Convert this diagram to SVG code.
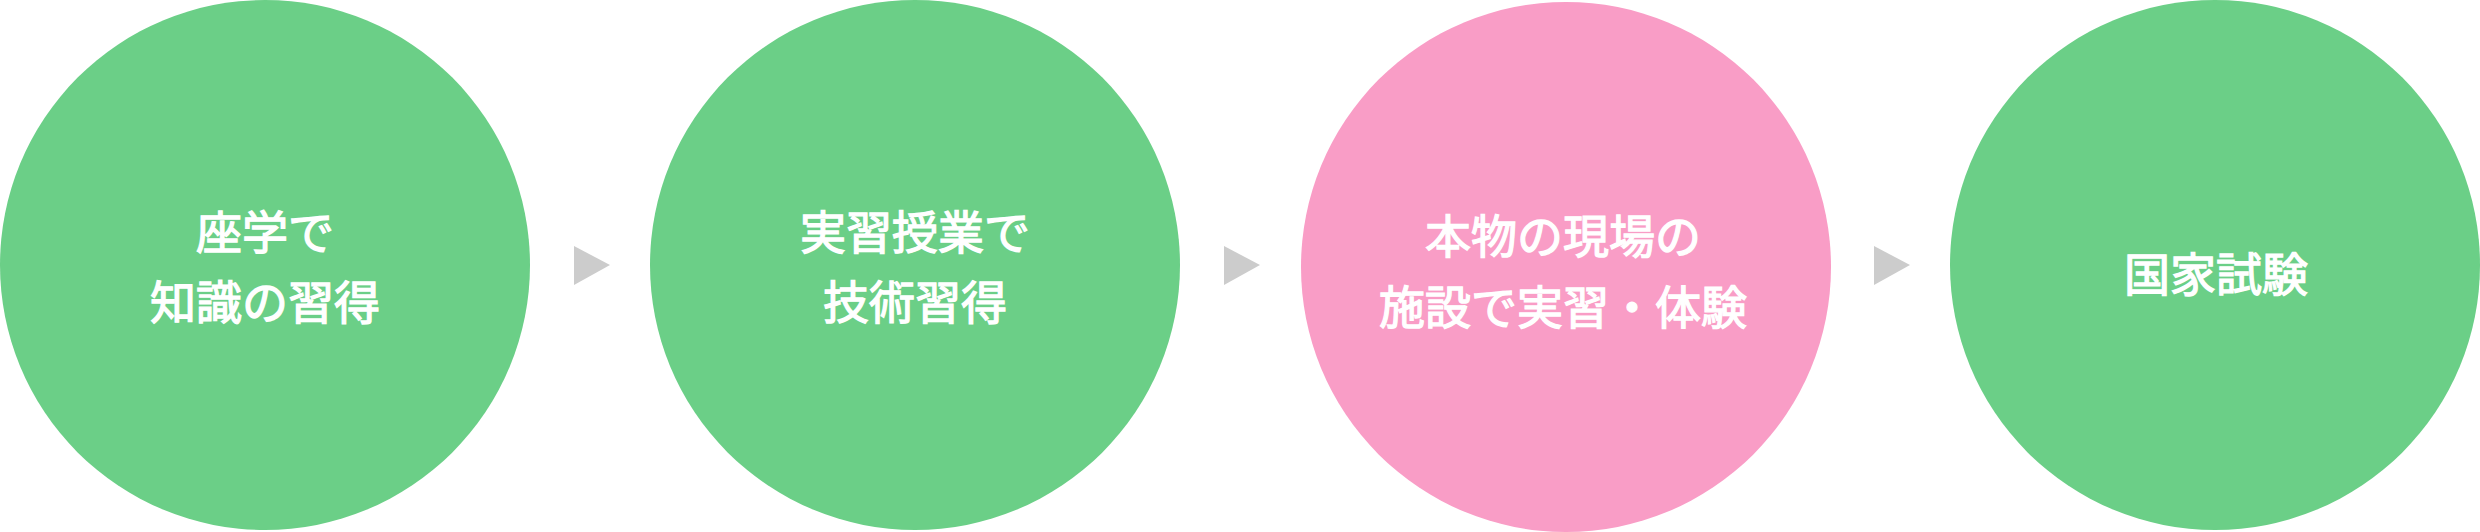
<svg xmlns="http://www.w3.org/2000/svg" width="2480" height="532" viewBox="0 0 2480 532">
<style>
.g{fill:#6bcf87}
.p{fill:#f99dc6}
.arr{fill:#cccccc}
text{font-family:"Noto Sans CJK JP","Noto Sans",sans-serif;font-size:46px;font-weight:normal;fill:#ffffff;stroke:#ffffff;stroke-width:1.3px;text-anchor:middle;dominant-baseline:central}
</style>
<rect width="2480" height="532" fill="#ffffff"/>
<g id="connectors">
<polygon class="arr" points="574,246 610,265 574,285"/>
<polygon class="arr" points="1224,246 1260,265 1224,285"/>
<polygon class="arr" points="1874,246 1910,265 1874,285"/>
</g>
<g id="node1">
<circle class="g" cx="265" cy="265" r="265"/>
<text x="265" y="229">座学で</text>
<text x="265" y="299">知識の習得</text>
</g>
<g id="node2">
<circle class="g" cx="915" cy="265" r="265"/>
<text x="915" y="229">実習授業で</text>
<text x="915" y="299">技術習得</text>
</g>
<g id="node3">
<circle class="p" cx="1566" cy="267" r="265"/>
<text x="1563" y="233">本物の現場の</text>
<text x="1563" y="304">施設で実習・体験</text>
</g>
<g id="node4">
<circle class="g" cx="2215" cy="265" r="265"/>
<text x="2216" y="271">国家試験</text>
</g>
</svg>
